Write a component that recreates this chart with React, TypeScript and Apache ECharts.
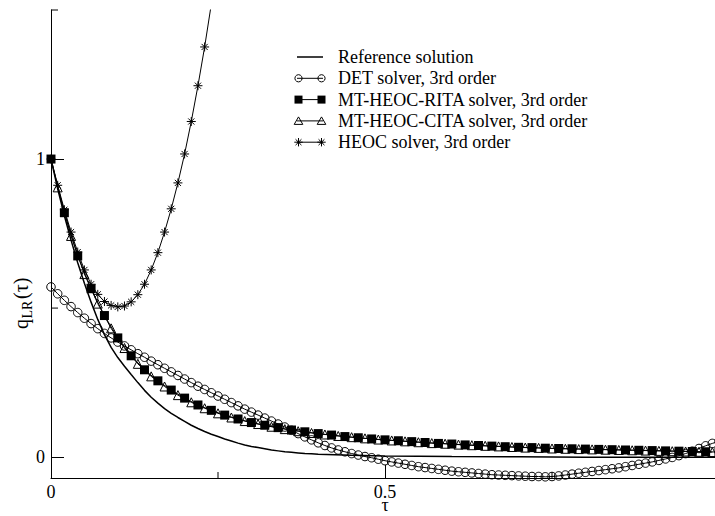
import { useEffect, useRef } from "react";
import * as echarts from "echarts";

// DET solver, 3rd order: tau = 0.00 .. 1.00, step 0.01
const DET_STEP = 0.01;
const detValues = [
  0.571, 0.548, 0.526, 0.505, 0.485, 0.466, 0.448, 0.431, 0.415, 0.4,
  0.386, 0.373, 0.36, 0.347, 0.335, 0.322, 0.31, 0.298, 0.286, 0.274,
  0.262, 0.25, 0.238, 0.227, 0.216, 0.205, 0.194, 0.183, 0.172, 0.161,
  0.151, 0.141, 0.131, 0.121, 0.111, 0.101, 0.09, 0.079, 0.068, 0.058,
  0.048, 0.039, 0.031, 0.024, 0.018, 0.012, 0.007, 0.002, -0.002, -0.007,
  -0.012, -0.016, -0.02, -0.024, -0.028, -0.032, -0.035, -0.038, -0.041, -0.044,
  -0.047, -0.049, -0.051, -0.053, -0.055, -0.057, -0.059, -0.06, -0.061, -0.062,
  -0.063, -0.064, -0.065, -0.065, -0.066, -0.065, -0.063, -0.06, -0.057, -0.054,
  -0.051, -0.048, -0.045, -0.042, -0.039, -0.036, -0.032, -0.028, -0.024, -0.02,
  -0.016, -0.011, -0.006, -0.001, 0.005, 0.012, 0.02, 0.029, 0.038, 0.046,
  0.053,
];

// MT-HEOC-RITA solver, 3rd order: tau = 0.00 .. 1.00, step 0.02
const RITA_STEP = 0.02;
const ritaValues = [
  1.0, 0.82, 0.675, 0.565, 0.475, 0.4, 0.34, 0.293, 0.256, 0.225,
  0.198, 0.175, 0.157, 0.141, 0.128, 0.116, 0.107, 0.099, 0.091, 0.085,
  0.079, 0.074, 0.069, 0.065, 0.061, 0.058, 0.055, 0.052, 0.049, 0.046,
  0.044, 0.041, 0.039, 0.037, 0.035, 0.033, 0.032, 0.03, 0.029, 0.028,
  0.027, 0.026, 0.025, 0.024, 0.023, 0.022, 0.021, 0.02, 0.019, 0.018,
  0.017,
];

// MT-HEOC-CITA solver, 3rd order: tau = 0.01 .. 0.99, step 0.02
const CITA_START = 0.01;
const CITA_STEP = 0.02;
const citaValues = [
  0.905, 0.742, 0.614, 0.515, 0.432, 0.366, 0.313, 0.271, 0.237, 0.208,
  0.184, 0.164, 0.147, 0.133, 0.121, 0.111, 0.102, 0.094, 0.087, 0.081,
  0.076, 0.071, 0.067, 0.063, 0.059, 0.056, 0.053, 0.05, 0.047, 0.045,
  0.042, 0.04, 0.038, 0.036, 0.034, 0.032, 0.031, 0.029, 0.028, 0.027,
  0.026, 0.025, 0.024, 0.023, 0.022, 0.021, 0.02, 0.019, 0.018, 0.017,
];

// HEOC solver, 3rd order: tau = 0.00 .. 0.25, step 0.01
const HEOC_STEP = 0.01;
const heocValues = [
  1.0, 0.912, 0.83, 0.755, 0.688, 0.628, 0.58, 0.546, 0.522, 0.509,
  0.504, 0.507, 0.521, 0.545, 0.58, 0.628, 0.686, 0.755, 0.833, 0.92,
  1.017, 1.126, 1.246, 1.376, 1.52, 1.67,
];

// Reference solution
const refTau = [
  0, 0.01, 0.02, 0.03, 0.04, 0.05, 0.06, 0.07, 0.08, 0.09,
  0.1, 0.11, 0.12, 0.13, 0.14, 0.15, 0.16, 0.17, 0.18, 0.19,
  0.2, 0.21, 0.22, 0.23, 0.24, 0.25, 0.26, 0.27, 0.28, 0.29,
  0.3, 0.31, 0.32, 0.33, 0.34, 0.35, 0.36, 0.37, 0.38, 0.39,
  0.4, 0.45, 0.5, 0.55, 0.6, 0.7, 0.8, 0.9, 1.0,
];
const refValues = [
  1.0, 0.9, 0.81, 0.728, 0.652, 0.583, 0.52, 0.462, 0.411, 0.368,
  0.334, 0.305, 0.277, 0.25, 0.224, 0.201, 0.181, 0.163, 0.147, 0.133,
  0.12, 0.107, 0.096, 0.086, 0.077, 0.069, 0.061, 0.054, 0.047, 0.041,
  0.036, 0.032, 0.028, 0.024, 0.021, 0.018, 0.016, 0.014, 0.012, 0.011,
  0.01, 0.006, 0.004, 0.003, 0.002, 0.001, 0.0, 0.0, 0.0,
];

const legendLabels = [
  "Reference solution",
  "DET solver, 3rd order",
  "MT-HEOC-RITA solver, 3rd order",
  "MT-HEOC-CITA solver, 3rd order",
  "HEOC solver, 3rd order",
];

const X_MIN = 0;
const X_MAX = 1;
const Y_MIN = -0.07;
const Y_MAX = 1.5;
const xMajorTicks = [0, 0.5, 1];
const xMinorTicks = [0.25, 0.75];
const xTickLabels = [0, 0.5];
const yMajorTicks = [0, 1];
const yMinorTicks = [0.5, 1.5];

const FONT = "Liberation Serif";
const INK = "#000";
const STAR = "path://M5,0L5,10M0,5L10,5M1.6,1.6L8.4,8.4M1.6,8.4L8.4,1.6";

const onGrid = (values: number[], start: number, step: number) =>
  values.map((v, i) => [+(start + i * step).toFixed(4), v]);

function legendMarker(kind: string, cx: number, cy: number): any[] {
  const s = { stroke: INK, lineWidth: 1, fill: "none" };
  if (kind === "circle") return [{ type: "circle", shape: { cx, cy, r: 3.6 }, style: s }];
  if (kind === "square")
    return [{ type: "rect", shape: { x: cx - 4, y: cy - 4, width: 8, height: 8 }, style: { fill: INK } }];
  if (kind === "triangle")
    return [
      {
        type: "polygon",
        shape: { points: [[cx, cy - 4], [cx + 4.3, cy + 3.5], [cx - 4.3, cy + 3.5]] },
        style: s,
      },
    ];
  if (kind === "star") {
    const r = 4.2;
    const d = r * 0.7;
    return [
      [cx, cy - r, cx, cy + r],
      [cx - r, cy, cx + r, cy],
      [cx - d, cy - d, cx + d, cy + d],
      [cx - d, cy + d, cx + d, cy - d],
    ].map(([x1, y1, x2, y2]) => ({ type: "line", shape: { x1, y1, x2, y2 }, style: { stroke: INK, lineWidth: 1 } }));
  }
  return [];
}

export default function App() {
  const ref = useRef<HTMLDivElement>(null);

  useEffect(() => {
    const chart = echarts.init(ref.current!, null, { renderer: "svg" });

    const markerStyle = { color: "rgba(0,0,0,0)", borderColor: INK, borderWidth: 1 };
    const kinds = ["none", "circle", "square", "triangle", "star"];

    const legendChildren: any[] = [];
    legendLabels.forEach((label, i) => {
      const y = 57 + i * 21.3;
      legendChildren.push({
        type: "line",
        shape: { x1: 297, y1: y, x2: 323, y2: y },
        style: { stroke: INK, lineWidth: i === 0 ? 1.5 : 1 },
      });
      if (kinds[i] !== "none") {
        legendChildren.push(...legendMarker(kinds[i], 298.5, y));
        legendChildren.push(...legendMarker(kinds[i], 321.5, y));
      }
      legendChildren.push({
        type: "text",
        x: 338,
        y,
        style: { text: label, fill: INK, font: `18px "${FONT}"`, verticalAlign: "middle", align: "left" },
      });
    });

    // rotated y-axis title: q with subscript LR, then (τ)
    const yName = {
      type: "group",
      x: 21,
      y: 300,
      rotation: Math.PI / 2,
      children: [
        { type: "text", x: -29, y: 0, style: { text: "q", fill: INK, font: `20px "${FONT}"`, verticalAlign: "middle" } },
        { type: "text", x: -18.5, y: 6, style: { text: "LR", fill: INK, font: `14px "${FONT}"`, verticalAlign: "middle" } },
        { type: "text", x: 1, y: 0, style: { text: "(τ)", fill: INK, font: `20px "${FONT}"`, verticalAlign: "middle" } },
      ],
    };

    const xName = {
      type: "text",
      x: 385,
      y: 505,
      style: {
        text: "τ",
        fill: INK,
        font: `18px "${FONT}"`,
        lineHeight: 9,
        align: "center",
        verticalAlign: "middle",
      },
    };

    const tickLine = { color: INK, width: 1 };
    const labelStyle = { color: INK, fontFamily: FONT, fontSize: 18 };

    chart.setOption({
      animation: false,
      backgroundColor: "#fff",
      grid: { left: 51, top: 10, width: 668, height: 468, containLabel: false, outerBoundsMode: "none" },
      xAxis: {
        type: "value",
        min: X_MIN,
        max: X_MAX,
        position: "bottom",
        axisLine: { show: true, onZero: false, lineStyle: tickLine },
        axisTick: { show: true, inside: true, length: 13, customValues: xMajorTicks, lineStyle: tickLine },
        axisLabel: {
          ...labelStyle,
          lineHeight: 13,
          margin: 7,
          customValues: xTickLabels,
          formatter: (v: number) => String(v),
        },
        splitLine: { show: false },
      },
      yAxis: {
        type: "value",
        min: Y_MIN,
        max: Y_MAX,
        position: "left",
        axisLine: { show: true, onZero: false, lineStyle: tickLine },
        axisTick: { show: true, inside: true, length: 13, customValues: yMajorTicks, lineStyle: tickLine },
        axisLabel: { ...labelStyle, margin: 6, customValues: yMajorTicks, formatter: (v: number) => String(v) },
        splitLine: { show: false },
      },
      series: [
        {
          name: legendLabels[0],
          type: "line",
          data: refTau.map((t, i) => [t, refValues[i]]),
          showSymbol: false,
          lineStyle: { color: INK, width: 1.5 },
          z: 2,
        },
        {
          name: legendLabels[1],
          type: "line",
          data: onGrid(detValues, 0, DET_STEP),
          symbol: "circle",
          symbolSize: 8.5,
          showAllSymbol: true,
          itemStyle: markerStyle,
          lineStyle: { color: INK, width: 1 },
          z: 3,
        },
        {
          name: legendLabels[2],
          type: "line",
          data: onGrid(ritaValues, 0, RITA_STEP),
          symbol: "rect",
          symbolSize: 9,
          showAllSymbol: true,
          itemStyle: { color: INK, borderWidth: 0 },
          lineStyle: { color: INK, width: 1 },
          z: 4,
        },
        {
          name: legendLabels[3],
          type: "line",
          data: onGrid(citaValues, CITA_START, CITA_STEP),
          symbol: "triangle",
          symbolSize: 9,
          showAllSymbol: true,
          itemStyle: markerStyle,
          lineStyle: { color: INK, width: 1 },
          z: 5,
        },
        {
          name: legendLabels[4],
          type: "line",
          data: onGrid(heocValues, 0, HEOC_STEP),
          symbol: STAR,
          symbolSize: 9,
          showAllSymbol: true,
          itemStyle: markerStyle,
          lineStyle: { color: INK, width: 1 },
          z: 6,
        },
      ],
      graphic: [{ type: "group", children: legendChildren }, yName, xName],
    });

    // minor ticks, placed through the axes' own scales
    const [x0, yBottom] = chart.convertToPixel({ gridIndex: 0 }, [X_MIN, Y_MIN]) as number[];
    const minorTicks: any[] = [];
    xMinorTicks.forEach((v) => {
      const px = chart.convertToPixel({ xAxisIndex: 0 }, v) as number;
      minorTicks.push({
        type: "line",
        shape: { x1: px, y1: yBottom, x2: px, y2: yBottom - 6 },
        style: { stroke: INK, lineWidth: 1 },
      });
    });
    yMinorTicks.forEach((v) => {
      const py = chart.convertToPixel({ yAxisIndex: 0 }, v) as number;
      minorTicks.push({
        type: "line",
        shape: { x1: x0, y1: py, x2: x0 + 7, y2: py },
        style: { stroke: INK, lineWidth: 1 },
      });
    });
    chart.setOption({
      graphic: [{ type: "group", children: legendChildren }, yName, xName, { type: "group", children: minorTicks }],
    });

    return () => chart.dispose();
  }, []);

  return <div ref={ref} style={{ position: "fixed", left: 0, top: 0, width: 715, height: 516 }} />;
}
